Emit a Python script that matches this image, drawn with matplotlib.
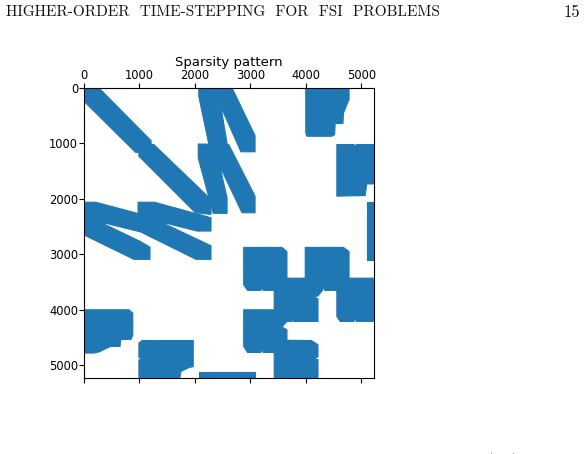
import matplotlib
matplotlib.use('Agg')
import matplotlib.pyplot as plt

# matrix size and tick values
n = 5230
ticks = [0, 1000, 2000, 3000, 4000, 5000]

# outlines of the nonzero blocks, (column, row)
diag_a_col = [0, 270, 1210, 1210, 930, 0]
diag_a_row = [0, 0, 950, 1170, 1160, 240]
diag_b_col = [990, 1260, 2290, 2290, 2010, 990]
diag_b_row = [1000, 1020, 2010, 2280, 2250, 1230]
band_c_col = [2070, 2370, 2670, 3085, 3085, 2830, 2470, 2580, 2580, 2290, 2070]
band_c_row = [0, 0, 0, 860, 1150, 1150, 340, 1000, 1200, 1200, 150]
band_e_col = [2060, 2610, 3085, 3085, 2850, 2450, 2580, 2580, 2330, 2060]
band_e_row = [1010, 1020, 1950, 2250, 2250, 1410, 1980, 2260, 2260, 1260]
block_f_col = [4000, 4780, 4780, 4680, 4670, 4530, 4520, 4470, 4020, 4000]
block_f_row = [0, 0, 210, 450, 640, 640, 840, 870, 870, 810]
block_g_col = [4560, 4870, 4890, 4910, 5230, 5230, 5100, 5070, 4560]
block_g_row = [1020, 1020, 1060, 1020, 1020, 1730, 1730, 1940, 1950]
block_h_col = [5110, 5230, 5230, 5110]
block_h_row = [2060, 2060, 3096, 3096]
band_i_col = [0, 210, 1000, 1000, 270, 1000, 1190, 1190, 900, 0]
band_i_row = [2060, 2060, 2270, 2590, 2410, 2760, 2870, 3090, 3090, 2650]
band_j_col = [975, 1270, 2290, 2290, 2040, 1370, 2290, 2290, 2020, 1010, 975]
band_j_row = [2060, 2060, 2340, 2580, 2580, 2410, 2845, 3090, 3090, 2590, 2500]
block_k_col = [2880, 3570, 3660, 3660, 3990, 3990, 4680, 4780, 4780, 5230, 5230,
               4910, 4890, 4870, 4620, 4560, 4560, 4340, 4320, 4300, 4220, 4140,
               4220, 4220, 3780, 3765, 3750, 3660, 3570, 3660, 3660, 4100, 4220,
               4220, 4140, 4220, 4220, 3430, 3430, 3230, 3210, 3190, 2950, 2880,
               2880, 3430, 3430, 3230, 3210, 3190, 2950, 2880]
block_k_row = [2875, 2875, 2950, 3430, 3430, 2875, 2875, 2950, 3430, 3430, 4210,
               4210, 4140, 4210, 4210, 4120, 3650, 3650, 3570, 3650, 3750, 3770,
               3800, 4210, 4210, 4130, 4210, 4210, 4310, 4360, 4550, 4554, 4630,
               4850, 4875, 4900, 5220, 5220, 4770, 4770, 4690, 4770, 4770, 4660,
               4000, 4000, 3650, 3650, 3570, 3650, 3650, 3550]
block_l_col = [0, 810, 880, 880, 850, 660, 650, 480, 270, 180, 0]
block_l_row = [4000, 4000, 4060, 4450, 4530, 4540, 4660, 4660, 4760, 4780, 4780]
block_m_col = [1050, 1270, 1280, 1290, 1970, 1970, 1900, 1750, 1730, 990, 990, 1050, 990, 990]
block_m_row = [4554, 4554, 4600, 4554, 4554, 5025, 5040, 5110, 5220, 5220, 4905, 4880, 4860, 4600]
block_n_col = [2070, 3090, 3090, 2070]
block_n_row = [5118, 5118, 5220, 5220]

blocks = [
    (diag_a_col, diag_a_row), (diag_b_col, diag_b_row),
    (band_c_col, band_c_row), (band_e_col, band_e_row),
    (block_f_col, block_f_row), (block_g_col, block_g_row),
    (block_h_col, block_h_row), (band_i_col, band_i_row),
    (band_j_col, band_j_row), (block_k_col, block_k_row),
    (block_l_col, block_l_row), (block_m_col, block_m_row),
    (block_n_col, block_n_row),
]

fig = plt.figure(figsize=(5.86, 4.54), dpi=100)
ax = fig.add_axes([84 / 586, 1 - 378 / 454, 290 / 586, 290 / 454])

for cols, rows in blocks:
    ax.fill(cols, rows, color='#1f77b4', linewidth=0.8, joinstyle='round')

ax.set_xlim(0, n)
ax.set_ylim(n, 0)
ax.set_aspect('equal')
ax.set_xticks(ticks)
ax.set_yticks(ticks)
ax.tick_params(labelsize=8.3, top=True, bottom=True, labeltop=True, labelbottom=False, pad=0.8)
ax.set_title('Sparsity pattern', fontsize=9.5, pad=1.0)

fig.text(6 / 586, 1 - 12 / 454, 'HIGHER-ORDER  TIME-STEPPING  FOR  FSI  PROBLEMS',
         family='cmr10', fontsize=11, va='center', ha='left', color='#111111')
fig.text(580 / 586, 1 - 12 / 454, '15', family='cmr10', fontsize=12, va='center', ha='right',
         color='#111111')
# tops of the cut off equation number at the page bottom
fig.text(490 / 586, 1 - 453 / 454, '(', family='cmr10', fontsize=9.5, va='top', ha='center', color='#111111')
fig.text(514 / 586, 1 - 453 / 454, ')', family='cmr10', fontsize=9.5, va='top', ha='center', color='#111111')

fig.savefig('out.png', dpi=100)
